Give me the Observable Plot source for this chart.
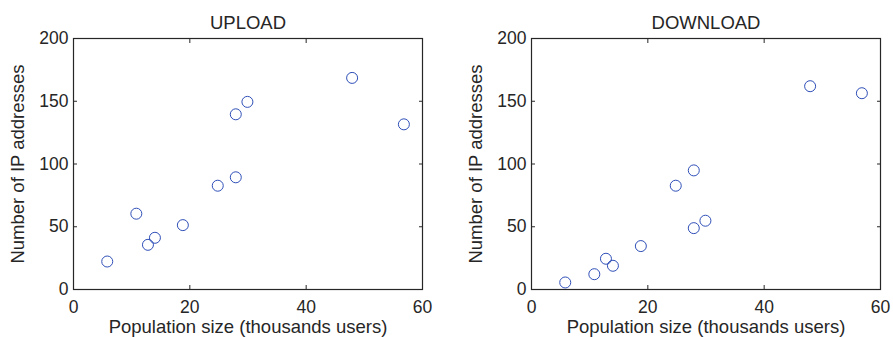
<!DOCTYPE html>
<html>
<head>
<meta charset="utf-8">
<script src="https://cdn.jsdelivr.net/npm/d3@7"></script>
<script src="https://cdn.jsdelivr.net/npm/@observablehq/plot@0.6"></script>
<style>
  html, body { margin: 0; padding: 0; background: #fff; }
  #wrap { position: relative; width: 893px; height: 337px; }
  #wrap > div { position: absolute; top: 0; }
  svg { font-family: "Liberation Sans", Arial, sans-serif; }
</style>
</head>
<body>
<div id="wrap"><div id="left" style="left:0"></div><div id="right" style="left:446px"></div></div>
<script>
const populationSize = [5.8, 10.8, 12.8, 14.0, 18.8, 24.8, 27.9, 27.9, 29.9, 47.9, 56.8];
const uploadIPs   = [22.3, 60.4, 35.6, 41.2, 51.3, 82.7, 89.4, 139.6, 149.5, 168.6, 131.6];
const downloadIPs = [5.6, 12.2, 24.5, 18.9, 34.6, 82.7, 94.9, 48.9, 54.8, 162, 156.4];
const xTicks = [0, 20, 40, 60];
const yTicks = [0, 50, 100, 150, 200];
const titles = ["UPLOAD", "DOWNLOAD"];
const xLabel = "Population size (thousands users)";
const yLabel = "Number of IP addresses";

const ink = "#262626";
const blue = "#2f4fb8";

function panel(title, values, width, marginLeft, marginRight) {
  const data = populationSize.map((x, i) => ({x, y: values[i]}));
  return Plot.plot({
    width, height: 337,
    marginLeft, marginRight, marginTop: 38, marginBottom: 48,
    style: {fontFamily: "Liberation Sans, Arial, sans-serif", fontSize: "17.5px", color: ink, background: "#fff"},
    x: {domain: [0, 60]},
    y: {domain: [0, 200]},
    marks: [
      Plot.axisX({anchor: "bottom", ticks: xTicks, tickSize: 0, tickPadding: 11, label: null, fontSize: 17.5}),
      Plot.axisY({anchor: "left", ticks: yTicks, tickSize: 0, tickPadding: 5, label: null, fontSize: 17.5}),
      Plot.axisX({anchor: "bottom", ticks: xTicks, tickSize: -4, tickFormat: () => "", label: null}),
      Plot.axisX({anchor: "top", ticks: xTicks, tickSize: -4, tickFormat: () => "", label: null}),
      Plot.axisY({anchor: "left", ticks: yTicks, tickSize: -4, tickFormat: () => "", label: null}),
      Plot.axisY({anchor: "right", ticks: yTicks, tickSize: -4, tickFormat: () => "", label: null}),
      Plot.frame({stroke: ink, strokeWidth: 1.2}),
      Plot.dot(data, {x: "x", y: "y", r: 5.5, stroke: blue, strokeWidth: 1, fill: "none"}),
      Plot.text([title], {text: d => d, frameAnchor: "top", dy: -23, fontSize: 18.5, fill: ink}),
      Plot.text([xLabel], {text: d => d, frameAnchor: "bottom", lineAnchor: "top", dy: 30, fontSize: 18.5, fill: ink}),
      Plot.text([yLabel], {text: d => d, frameAnchor: "left", textAnchor: "middle", rotate: -90, dx: -55, fontSize: 18.5, fill: ink})
    ]
  });
}

document.getElementById("left").append(panel(titles[0], uploadIPs, 446, 73, 24));
document.getElementById("right").append(panel(titles[1], downloadIPs, 447, 85, 13));
</script>
</body>
</html>
